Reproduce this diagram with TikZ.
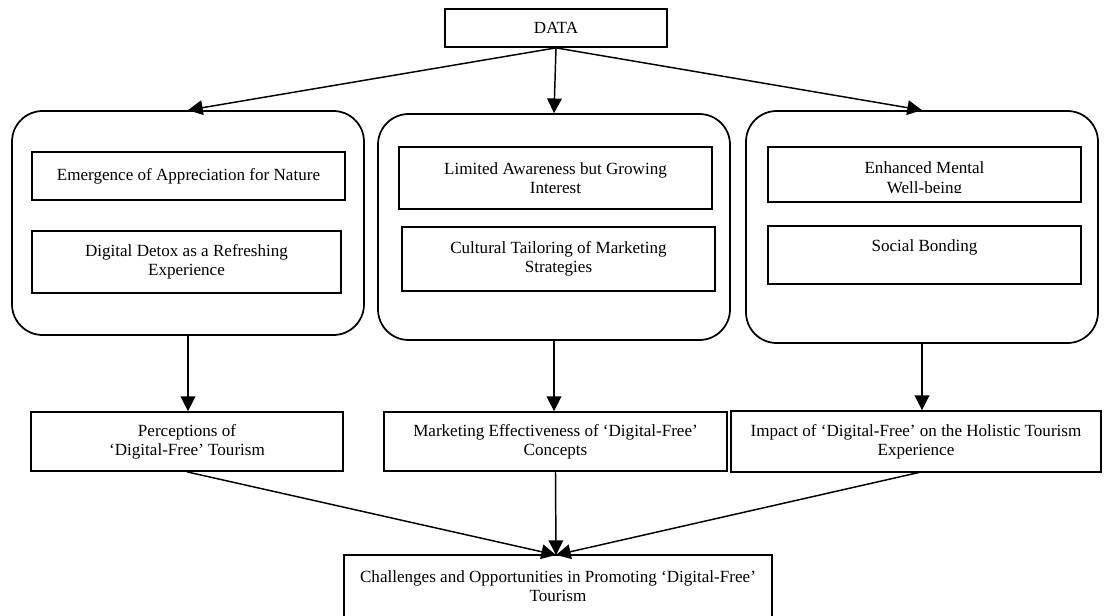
\documentclass[tikz,border=0pt]{standalone}
\usepackage{fontspec}
\setmainfont{Liberation Serif}
\usetikzlibrary{arrows.meta}
\begin{document}
\begin{tikzpicture}[x=0.75pt,y=-0.75pt,
  txtfont/.style={font=\fontsize{12.8}{14.4}\selectfont},
  box/.style={draw, line width=1.3pt, inner sep=0pt, align=center, txtfont},
  txt/.style={inner sep=0pt, align=center, txtfont},
  group/.style={draw, line width=1.3pt, rounded corners=23pt, inner sep=0pt},
  conn/.style={line width=1.1pt, -{Triangle[length=11pt,width=11pt]}},
  link/.style={line width=1.1pt}]
\useasboundingbox (0,0) rectangle (1104,615);
\clip (0,0) rectangle (1104,615);

% top
\node (D) [box, minimum width=166.5pt, minimum height=28.5pt] at (556,28) {DATA};

% groups
\node (L) [group, minimum width=264pt, minimum height=168pt] at (188,223) {};
\node (M) [group, minimum width=264pt, minimum height=169.5pt] at (554,227) {};
\node (R) [group, minimum width=264pt, minimum height=174pt] at (922,227) {};

% inner boxes
\node (L1) [box, minimum width=234.75pt, minimum height=36pt] at (188.5,176) {Emergence of Appreciation for Nature};
\node (L2) [box, minimum width=231.75pt, minimum height=46.5pt] at (186.5,262) {Digital Detox as a Refreshing\\Experience};
\node (M1) [box, minimum width=234.75pt, minimum height=46.5pt] at (555.5,178) {Limited Awareness but Growing\\Interest};
\node (M2) [box, minimum width=234.75pt, minimum height=48pt] at (558.5,259) {Cultural Tailoring of Marketing\\Strategies};
\node (R1) [box, minimum width=234.75pt, minimum height=41.25pt] at (924.5,174.5) {};
\begin{scope}
  \clip (768,147) rectangle (1081,192);
  \node (R1t) [txt] at (924.5,179.5) {Enhanced Mental\\Well-being};
\end{scope}
\node (R2) [box, minimum width=234.75pt, minimum height=43.5pt] at (924.5,255) {};
\node (R2t) [txt] at (924.5,247) {Social Bonding};

% second row
\node (P) [box, minimum width=234pt, minimum height=44.25pt] at (187,441.5) {Perceptions of\\‘Digital-Free’ Tourism};
\node (Mk) [box, minimum width=257.25pt, minimum height=44.25pt] at (555.5,441.5) {Marketing Effectiveness of ‘Digital-Free’\\Concepts};
\node (Im) [box, minimum width=277.5pt, minimum height=45.75pt] at (916,441.5) {Impact of ‘Digital-Free’ on the Holistic Tourism\\Experience};

% bottom
\node (Ch) [box, minimum width=321pt, minimum height=75pt] at (558,605) {};
\node (Cht) [txt] at (558,586) {Challenges and Opportunities in Promoting ‘Digital-Free’\\Tourism};
\coordinate (tip) at (556,555);
\coordinate (ImB) at (921,472);

% connectors
\draw[conn] (D.south) -- (L.north);
\draw[conn] (D.south) -- (M.north);
\draw[conn] (D.south) -- (R.north);
\draw[conn] (L.south) -- (L.south |- P.north);
\draw[conn] (M.south) -- (M.south |- Mk.north);
\draw[conn] (R.south) -- (R.south |- Im.north);
\draw[conn] (P.south) -- (tip);
\draw[conn] (Mk.south) -- (tip);
\draw[conn] (ImB) -- (tip);
\end{tikzpicture}
\end{document}
